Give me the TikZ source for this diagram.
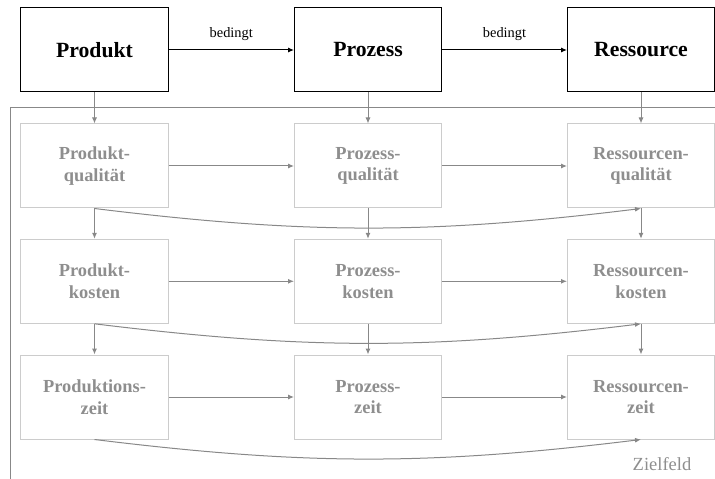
\documentclass[tikz,border=0pt]{standalone}
\usepackage{fontspec}
\setmainfont{Liberation Serif}
\usetikzlibrary{arrows.meta}
\definecolor{linegrey}{HTML}{888888}
\definecolor{boxgrey}{HTML}{CCCCCC}
\definecolor{textgrey}{HTML}{8E8E8E}
\tikzset{
  mainbox/.style={draw=black, line width=1bp, minimum width=147bp, minimum height=84bp,
    inner sep=0pt, font=\fontsize{21.7bp}{26bp}\selectfont\bfseries},
  goalbox/.style={draw=boxgrey, line width=1bp, minimum width=147bp, minimum height=84bp,
    inner sep=0pt, align=center, text=textgrey,
    font=\fontsize{18.4bp}{21.7bp}\selectfont\bfseries},
  blackarrow/.style={draw=black, line width=1bp, -{Latex[length=6bp,width=5bp]}},
  greyarrow/.style={draw=linegrey, line width=1bp, -{Latex[length=6bp,width=5bp]}},
  arrowlabel/.style={font=\fontsize{14.4bp}{17bp}\selectfont, inner sep=0pt},
  framelabel/.style={font=\fontsize{18.5bp}{22bp}\selectfont, text=textgrey, inner sep=0pt}
}
\begin{document}
\begin{tikzpicture}[x=1bp, y=-1bp]
  \useasboundingbox (0,0) rectangle (715,479);
  \clip (0,0) rectangle (715,479);

  % goal field frame, open to the right and below
  \coordinate (fbl) at (10,490);
  \coordinate (ftl) at (10,108);
  \coordinate (ftr) at (730,108);
  \draw[linegrey, line width=1bp] (fbl) -- (ftl) -- (ftr);
  \node[framelabel, anchor=base] (zf) at (662,470) {Zielfeld};

  % main objects
  \node[mainbox] (prod) at (94.5,50) {Produkt};
  \node[mainbox] (proz) at (368,50) {Prozess};
  \node[mainbox] (ress) at (641,50) {Ressource};

  \draw[blackarrow] (prod.east) -- node[arrowlabel, above=9bp] {bedingt} (proz.west);
  \draw[blackarrow] (proz.east) -- node[arrowlabel, above=9bp] {bedingt} (ress.west);

  % goal boxes
  \node[goalbox] (pq) at (94.5,166) {Produkt-\\qualität};
  \node[goalbox] (zq) at (368,166) {Prozess-\\qualität};
  \node[goalbox] (rq) at (641,166) {Ressourcen-\\qualität};

  \node[goalbox] (pk) at (94.5,281.3) {Produkt-\\kosten};
  \node[goalbox] (zk) at (368,281.3) {Prozess-\\kosten};
  \node[goalbox] (rk) at (641,281.3) {Ressourcen-\\kosten};

  \node[goalbox] (pz) at (94.5,397) {Produktions-\\zeit};
  \node[goalbox] (zz) at (368,397) {Prozess-\\zeit};
  \node[goalbox] (rz) at (641,397) {Ressourcen-\\zeit};

  % from objects into the goal field
  \draw[greyarrow] (prod.south) -- (pq.north);
  \draw[greyarrow] (proz.south) -- (zq.north);
  \draw[greyarrow] (ress.south) -- (rq.north);

  % down the columns
  \draw[greyarrow] (pq.south) -- (pk.north);
  \draw[greyarrow] (zq.south) -- (zk.north);
  \draw[greyarrow] (rq.south) -- (rk.north);
  \draw[greyarrow] (pk.south) -- (pz.north);
  \draw[greyarrow] (zk.south) -- (zz.north);
  \draw[greyarrow] (rk.south) -- (rz.north);

  % along the rows
  \draw[greyarrow] (pq.east) -- (zq.west);
  \draw[greyarrow] (zq.east) -- (rq.west);
  \draw[greyarrow] (pk.east) -- (zk.west);
  \draw[greyarrow] (zk.east) -- (rk.west);
  \draw[greyarrow] (pz.east) -- (zz.west);
  \draw[greyarrow] (zz.east) -- (rz.west);

  % product directly to resource
  \draw[greyarrow] (pq.south) to[out=-7, in=187] (rq.south);
  \draw[greyarrow] (pk.south) to[out=-7, in=187] (rk.south);
  \draw[greyarrow] (pz.south) to[out=-7, in=187] (rz.south);
\end{tikzpicture}
\end{document}
